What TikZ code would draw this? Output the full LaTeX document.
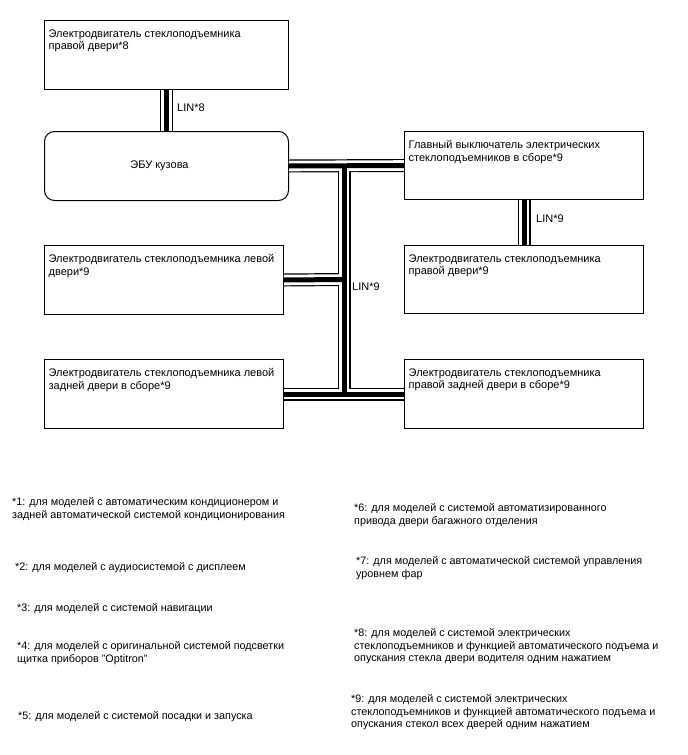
\documentclass[tikz,border=0pt]{standalone}
\usepackage{fontspec}
\setmainfont{Liberation Sans}
\usetikzlibrary{calc}
\begin{document}
\begin{tikzpicture}[x=1pt,y=-1pt,
  box/.style={draw=black,line width=1pt,fill=white,anchor=north west,inner sep=0pt},
  boxtext/.style={anchor=north west,inner sep=0pt,align=left,font=\fontsize{11}{12.3}\selectfont},
  note/.style={anchor=north west,inner sep=0pt,align=left,font=\fontsize{10.8}{12.3}\selectfont},
  lbl/.style={anchor=west,inner sep=0pt,font=\fontsize{11}{12.3}\selectfont},
  busout/.style={line width=13pt,draw=black,line cap=butt},
  busmid/.style={line width=10.6pt,draw=white,line cap=butt},
  busin/.style={line width=5pt,draw=black,line cap=butt}]
\useasboundingbox (0,0) rectangle (688,755);
\fill[white] (0,0) rectangle (688,755);

% boxes
\node[box,minimum width=244pt,minimum height=69pt] (rd8) at (44,20) {};
\node[box,minimum width=244pt,minimum height=69pt,rounded corners=10pt] (ecu) at (44,131) {};
\node[box,minimum width=239pt,minimum height=68pt] (sw) at (404,131) {};
\node[box,minimum width=239pt,minimum height=68pt] (rd9) at (404,245) {};
\node[box,minimum width=239pt,minimum height=69pt] (rr) at (404,359) {};
\node[box,minimum width=239pt,minimum height=69pt] (ld) at (44,245) {};
\node[box,minimum width=239pt,minimum height=69pt] (lr) at (44,359) {};

% bus coordinates
\coordinate (tt) at (344,165);
\coordinate (tl) at (344,279.5);
\coordinate (tb) at (344,393.5);

% buses (three passes)
\foreach \st in {busout,busmid,busin}{
  \draw[\st] (rd8.south) -- (ecu.north);
  \draw[\st] (sw.south) -- (rd9.north);
  \draw[\st] (ecu.east) -- (sw.west);
  \draw[\st] (tt) -- (tb);
  \draw[\st] (ld.east) -- (tl);
  \draw[\st] (lr.east) -- (rr.west);
}

% box texts
\node[boxtext] (t1) at ($(rd8.north west)+(4.5,9.5)$) {Электродвигатель стеклоподъемника\\правой двери*8};
\node[font=\fontsize{11}{12.3}\selectfont,inner sep=0pt] (t2) at ($(ecu.center)+(-7,0)$) {ЭБУ кузова};
\node[boxtext] (t3) at ($(sw.north west)+(4.5,9.5)$) {Главный выключатель электрических\\стеклоподъемников в сборе*9};
\node[boxtext] (t4) at ($(rd9.north west)+(4.5,9.5)$) {Электродвигатель стеклоподъемника\\правой двери*9};
\node[boxtext] (t5) at ($(rr.north west)+(4.5,9.5)$) {Электродвигатель стеклоподъемника\\правой задней двери в сборе*9};
\node[boxtext] (t6) at ($(ld.north west)+(4.5,9.5)$) {Электродвигатель стеклоподъемника левой\\двери*9};
\node[boxtext] (t7) at ($(lr.north west)+(4.5,9.5)$) {Электродвигатель стеклоподъемника левой\\задней двери в сборе*9};

% labels
\node[lbl] (l8) at (177,108) {LIN*8};
\node[lbl] (l9a) at (536,219) {LIN*9};
\node[lbl] (l9b) at (352,287) {LIN*9};

% notes
\node[note] (n1) at (12,497.5) {*1: для моделей с автоматическим кондиционером и\\задней автоматической системой кондиционирования};
\node[note] (n2) at (15,562.5) {*2: для моделей с аудиосистемой с дисплеем};
\node[note] (n3) at (17,603.5) {*3: для моделей с системой навигации};
\node[note] (n4) at (17,641.5) {*4: для моделей с оригинальной системой подсветки\\щитка приборов "Optitron"};
\node[note] (n5) at (18,711.5) {*5: для моделей с системой посадки и запуска};
\node[note] (n6) at (354,503.5) {*6: для моделей с системой автоматизированного\\привода двери багажного отделения};
\node[note] (n7) at (356,556.5) {*7: для моделей с автоматической системой управления\\уровнем фар};
\node[note] (n8) at (354,628.5) {*8: для моделей с системой электрических\\стеклоподъемников и функцией автоматического подъема и\\опускания стекла двери водителя одним нажатием};
\node[note] (n9) at (351,694.5) {*9: для моделей с системой электрических\\стеклоподъемников и функцией автоматического подъема и\\опускания стекол всех дверей одним нажатием};
\end{tikzpicture}
\end{document}
